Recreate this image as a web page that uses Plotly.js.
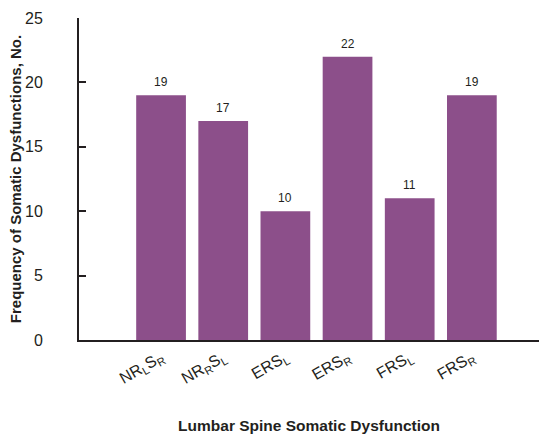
<!DOCTYPE html>
<html><head><meta charset="utf-8">
<script src="https://cdn.plot.ly/plotly-3.0.1.min.js"></script>
<style>html,body{margin:0;padding:0;background:#fff}#chart{width:539px;height:434px}</style>
</head><body><div id="chart"></div>
<script>
const categories = ['NR<sub>L</sub>S<sub>R</sub>','NR<sub>R</sub>S<sub>L</sub>','ERS<sub>L</sub>','ERS<sub>R</sub>','FRS<sub>L</sub>','FRS<sub>R</sub>'];
const counts = [19, 17, 10, 22, 11, 19];
const yTicks = [0, 5, 10, 15, 20, 25];

const font = 'Liberation Sans, Arial, sans-serif';
const ink = '#231f20';

const trace = {
  type: 'bar',
  x: [0,1,2,3,4,5],
  y: counts,
  marker: {color: '#8c4f8a'},
  width: 0.8,
  hoverinfo: 'none'
};

const annotations = counts.map((v, i) => ({
  x: i, y: v, text: String(v), showarrow: false,
  yanchor: 'bottom', yshift: 4,
  font: {family: font, size: 12, color: ink}
}));

const layout = {
  width: 539, height: 434,
  margin: {l: 79, r: 0, t: 18, b: 94},
  paper_bgcolor: '#fff', plot_bgcolor: '#fff',
  showlegend: false,
  font: {family: font, color: ink},
  xaxis: {
    range: [-1.32, 6.08],
    tickvals: [0,1,2,3,4,5],
    ticktext: categories,
    tickangle: -30,
    ticks: '',
    showgrid: false, zeroline: false,
    showline: true, linecolor: ink, linewidth: 2,
    tickfont: {family: font, size: 16, color: ink},
    title: {text: '<b>Lumbar Spine Somatic Dysfunction</b>', font: {family: font, size: 15.5, color: ink}, standoff: 40}
  },
  yaxis: {
    range: [0, 25],
    tickvals: yTicks,
    ticks: 'inside', ticklen: 7, tickwidth: 2, tickcolor: ink,
    showgrid: false, zeroline: false,
    showline: true, linecolor: ink, linewidth: 2,
    tickfont: {family: font, size: 16, color: ink},
    ticklabelstandoff: 31,
    title: {text: '<b>Frequency of Somatic Dysfunctions, No.</b>', font: {family: font, size: 15, color: ink}, standoff: 0}
  },
  annotations: annotations
};

Plotly.newPlot('chart', [trace], layout, {staticPlot: true});
</script></body></html>
